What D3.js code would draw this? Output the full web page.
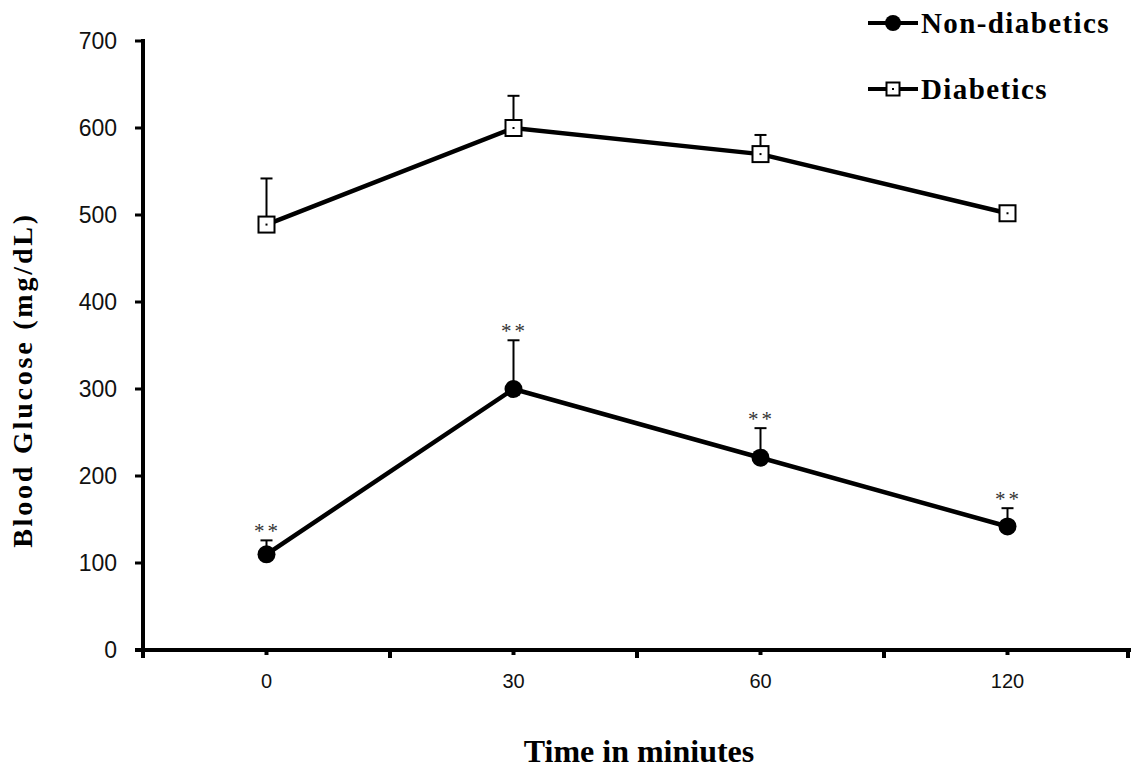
<!DOCTYPE html>
<html>
<head>
<meta charset="utf-8">
<script src="https://cdn.jsdelivr.net/npm/d3@7"></script>
<style>
    html, body { margin: 0; padding: 0; background: #fff; }
    svg { display: block; }
    .tick-y text { font-family: "Liberation Sans", Arial, sans-serif; font-size: 23px; fill: #111; }
    .tick-x text { font-family: "Liberation Sans", Arial, sans-serif; font-size: 20px; fill: #111; }
    .title { font-family: "Liberation Serif", "Times New Roman", serif; font-weight: bold; fill: #000; }
    .star { font-family: "Liberation Serif", "Times New Roman", serif; font-size: 21px; fill: #333; }
</style>
</head>
<body>
<div id="chart"></div>
<script>
    // values
    var times = ["0", "30", "60", "120"];
    var nonDiabetic = [110, 300, 221, 142];
    var nonDiabeticErr = [16, 56, 34, 21];
    var diabetic = [489, 600, 570, 502];
    var diabeticErr = [53, 37, 22, 3];
    var signif = ["**", "**", "**", "**"];
    var yTicks = [0, 100, 200, 300, 400, 500, 600, 700];
    var seriesNames = ["Non-diabetics", "Diabetics"];

    var width = 1131, height = 770;
    var plotLeft = 143, plotRight = 1131, plotTop = 41, plotBottom = 650;

    var svg = d3.select("#chart").append("svg")
        .attr("width", width)
        .attr("height", height);

    var x = d3.scaleBand().domain(times).range([plotLeft, plotRight]).padding(0);
    var y = d3.scaleLinear().domain([0, 700]).range([plotBottom, plotTop]);

    var cx = function (i) { return x(times[i]) + x.bandwidth() / 2; };

    // y axis
    var yAxis = svg.append("g").attr("class", "tick-y");
    yAxis.append("line")
        .attr("x1", plotLeft).attr("x2", plotLeft)
        .attr("y1", y(700) - 2).attr("y2", plotBottom + 2)
        .attr("stroke", "#000").attr("stroke-width", 4);
    yAxis.selectAll("line.t").data(yTicks).enter().append("line")
        .attr("class", "t")
        .attr("x1", plotLeft - 8).attr("x2", plotLeft)
        .attr("y1", function (d) { return y(d); })
        .attr("y2", function (d) { return y(d); })
        .attr("stroke", "#000").attr("stroke-width", 3);
    yAxis.selectAll("text").data(yTicks).enter().append("text")
        .attr("x", 117)
        .attr("y", function (d) { return y(d); })
        .attr("dy", "0.35em")
        .attr("text-anchor", "end")
        .text(function (d) { return d; });

    // x axis
    var xAxis = svg.append("g").attr("class", "tick-x");
    xAxis.append("line")
        .attr("x1", plotLeft - 8).attr("x2", plotRight)
        .attr("y1", plotBottom).attr("y2", plotBottom)
        .attr("stroke", "#000").attr("stroke-width", 4);
    var bounds = times.map(function (t) { return x(t); }).concat([plotRight - 3]);
    xAxis.selectAll("line.b").data(bounds).enter().append("line")
        .attr("class", "b")
        .attr("x1", function (d) { return d; })
        .attr("x2", function (d) { return d; })
        .attr("y1", plotBottom).attr("y2", plotBottom + 8)
        .attr("stroke", "#000").attr("stroke-width", 4);
    xAxis.selectAll("line.c").data(times).enter().append("line")
        .attr("class", "c")
        .attr("x1", function (d, i) { return cx(i); })
        .attr("x2", function (d, i) { return cx(i); })
        .attr("y1", plotBottom).attr("y2", plotBottom + 5)
        .attr("stroke", "#000").attr("stroke-width", 4);
    xAxis.selectAll("text").data(times).enter().append("text")
        .attr("x", function (d, i) { return cx(i); })
        .attr("y", 688)
        .attr("text-anchor", "middle")
        .text(function (d) { return d; });

    var line = d3.line()
        .x(function (d, i) { return cx(i); })
        .y(function (d) { return y(d); });

    function errorBars(vals, errs, off) {
        var g = svg.append("g");
        vals.forEach(function (v, i) {
            var xc = cx(i), yt = y(v + errs[i]);
            g.append("line")
                .attr("x1", xc).attr("x2", xc)
                .attr("y1", y(v) - off).attr("y2", yt)
                .attr("stroke", "#000").attr("stroke-width", 2);
            g.append("line")
                .attr("x1", xc - 6).attr("x2", xc + 6)
                .attr("y1", yt).attr("y2", yt)
                .attr("stroke", "#000").attr("stroke-width", 2);
        });
    }

    errorBars(diabetic, diabeticErr, 8);
    errorBars(nonDiabetic, nonDiabeticErr, 8);

    svg.append("path").datum(diabetic)
        .attr("d", line).attr("fill", "none")
        .attr("stroke", "#000").attr("stroke-width", 4.5);
    svg.append("path").datum(nonDiabetic)
        .attr("d", line).attr("fill", "none")
        .attr("stroke", "#000").attr("stroke-width", 4.5);

    function squareMark(g, xc, yc, s) {
        g.append("rect")
            .attr("x", xc - s / 2).attr("y", yc - s / 2)
            .attr("width", s).attr("height", s)
            .attr("fill", "#fff").attr("stroke", "#000").attr("stroke-width", 2);
        g.append("rect")
            .attr("x", xc - 1).attr("y", yc - 1)
            .attr("width", 2).attr("height", 2)
            .attr("fill", "#000");
    }

    var marks = svg.append("g");
    diabetic.forEach(function (v, i) { squareMark(marks, cx(i), y(v), 16); });
    marks.selectAll("circle").data(nonDiabetic).enter().append("circle")
        .attr("cx", function (d, i) { return cx(i); })
        .attr("cy", function (d) { return y(d); })
        .attr("r", 9)
        .attr("fill", "#000");

    // significance marks
    svg.selectAll("text.star").data(signif).enter().append("text")
        .attr("class", "star")
        .attr("x", function (d, i) { return cx(i) + 1; })
        .attr("y", function (d, i) { return y(nonDiabetic[i] + nonDiabeticErr[i]) - 2; })
        .attr("text-anchor", "middle")
        .attr("letter-spacing", "3px")
        .text(function (d) { return d; });

    // legend
    var legend = svg.append("g");
    var ly = [23, 89];
    seriesNames.forEach(function (name, i) {
        legend.append("line")
            .attr("x1", 868).attr("x2", 918)
            .attr("y1", ly[i]).attr("y2", ly[i])
            .attr("stroke", "#000").attr("stroke-width", 4);
        if (i === 0) {
            legend.append("circle").attr("cx", 893).attr("cy", ly[i]).attr("r", 8).attr("fill", "#000");
        } else {
            squareMark(legend, 893, ly[i], 13);
        }
        legend.append("text")
            .attr("class", "title")
            .attr("x", 921).attr("y", ly[i] + 10)
            .style("font-size", "29px")
            .attr("letter-spacing", "1.4px")
            .text(name);
    });

    // axis titles
    svg.append("text")
        .attr("class", "title")
        .attr("x", 639).attr("y", 762)
        .attr("text-anchor", "middle")
        .style("font-size", "32px")
        .text("Time in miniutes");

    svg.append("text")
        .attr("class", "title")
        .attr("transform", "translate(32,380)rotate(-90)")
        .attr("text-anchor", "middle")
        .style("font-size", "28px")
        .attr("letter-spacing", "2.8px")
        .text("Blood Glucose (mg/dL)");
</script>
</body>
</html>
